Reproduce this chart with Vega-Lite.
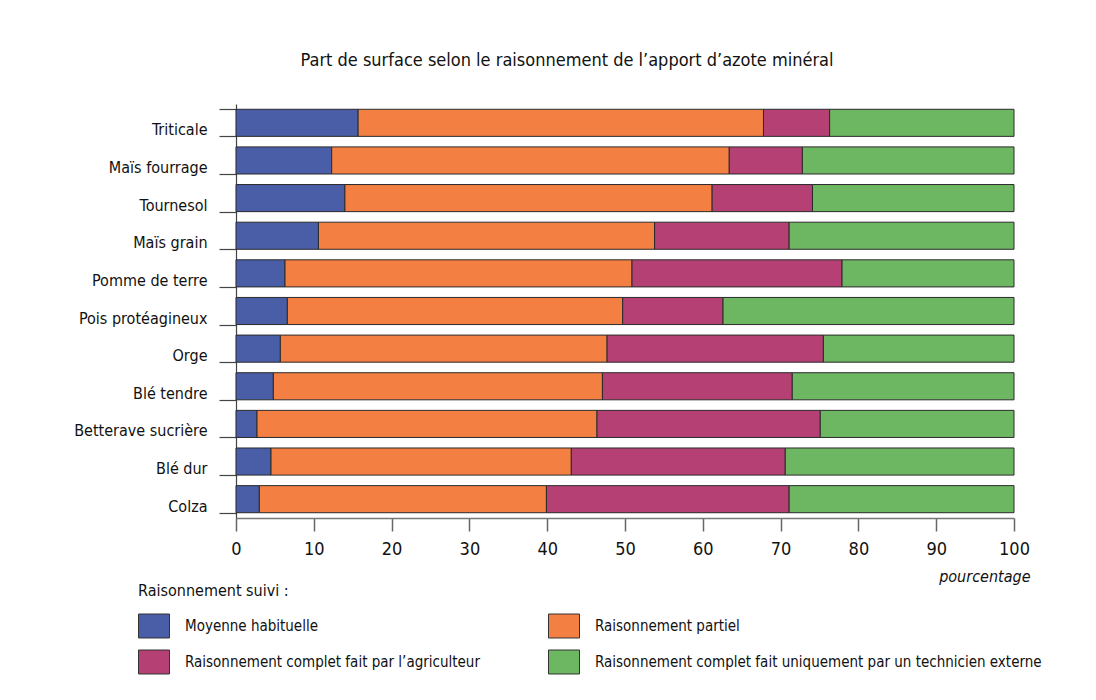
{
  "$schema": "https://vega.github.io/schema/vega-lite/v6.json",
  "width": 778,
  "height": 414,
  "autosize": {"type": "none"},
  "padding": {"left": 236, "top": 104, "right": 82, "bottom": 182},
  "background": "white",
  "config": {
    "font": "DejaVu Sans Condensed, Roboto",
    "view": {"stroke": null}
  },
  "title": {
    "text": "Part de surface selon le raisonnement de l’apport d’azote minéral",
    "anchor": "middle",
    "dx": -58,
    "offset": 26,
    "fontSize": 18,
    "fontWeight": "normal",
    "font": "DejaVu Sans Condensed, Roboto",
    "color": "#111"
  },
  "data": {
    "values": [
      {"culture": "Triticale", "raisonnement": "Moyenne habituelle", "rang": 1, "pct": 15.7},
      {"culture": "Triticale", "raisonnement": "Raisonnement partiel", "rang": 2, "pct": 52.1},
      {"culture": "Triticale", "raisonnement": "Raisonnement complet fait par l’agriculteur", "rang": 3, "pct": 8.5},
      {"culture": "Triticale", "raisonnement": "Raisonnement complet fait uniquement par un technicien externe", "rang": 4, "pct": 23.7},
      {"culture": "Maïs fourrage", "raisonnement": "Moyenne habituelle", "rang": 1, "pct": 12.3},
      {"culture": "Maïs fourrage", "raisonnement": "Raisonnement partiel", "rang": 2, "pct": 51.1},
      {"culture": "Maïs fourrage", "raisonnement": "Raisonnement complet fait par l’agriculteur", "rang": 3, "pct": 9.4},
      {"culture": "Maïs fourrage", "raisonnement": "Raisonnement complet fait uniquement par un technicien externe", "rang": 4, "pct": 27.2},
      {"culture": "Tournesol", "raisonnement": "Moyenne habituelle", "rang": 1, "pct": 14.0},
      {"culture": "Tournesol", "raisonnement": "Raisonnement partiel", "rang": 2, "pct": 47.2},
      {"culture": "Tournesol", "raisonnement": "Raisonnement complet fait par l’agriculteur", "rang": 3, "pct": 12.9},
      {"culture": "Tournesol", "raisonnement": "Raisonnement complet fait uniquement par un technicien externe", "rang": 4, "pct": 25.9},
      {"culture": "Maïs grain", "raisonnement": "Moyenne habituelle", "rang": 1, "pct": 10.6},
      {"culture": "Maïs grain", "raisonnement": "Raisonnement partiel", "rang": 2, "pct": 43.2},
      {"culture": "Maïs grain", "raisonnement": "Raisonnement complet fait par l’agriculteur", "rang": 3, "pct": 17.3},
      {"culture": "Maïs grain", "raisonnement": "Raisonnement complet fait uniquement par un technicien externe", "rang": 4, "pct": 28.9},
      {"culture": "Pomme de terre", "raisonnement": "Moyenne habituelle", "rang": 1, "pct": 6.3},
      {"culture": "Pomme de terre", "raisonnement": "Raisonnement partiel", "rang": 2, "pct": 44.6},
      {"culture": "Pomme de terre", "raisonnement": "Raisonnement complet fait par l’agriculteur", "rang": 3, "pct": 27.0},
      {"culture": "Pomme de terre", "raisonnement": "Raisonnement complet fait uniquement par un technicien externe", "rang": 4, "pct": 22.1},
      {"culture": "Pois protéagineux", "raisonnement": "Moyenne habituelle", "rang": 1, "pct": 6.6},
      {"culture": "Pois protéagineux", "raisonnement": "Raisonnement partiel", "rang": 2, "pct": 43.1},
      {"culture": "Pois protéagineux", "raisonnement": "Raisonnement complet fait par l’agriculteur", "rang": 3, "pct": 12.9},
      {"culture": "Pois protéagineux", "raisonnement": "Raisonnement complet fait uniquement par un technicien externe", "rang": 4, "pct": 37.4},
      {"culture": "Orge", "raisonnement": "Moyenne habituelle", "rang": 1, "pct": 5.7},
      {"culture": "Orge", "raisonnement": "Raisonnement partiel", "rang": 2, "pct": 42.0},
      {"culture": "Orge", "raisonnement": "Raisonnement complet fait par l’agriculteur", "rang": 3, "pct": 27.8},
      {"culture": "Orge", "raisonnement": "Raisonnement complet fait uniquement par un technicien externe", "rang": 4, "pct": 24.5},
      {"culture": "Blé tendre", "raisonnement": "Moyenne habituelle", "rang": 1, "pct": 4.8},
      {"culture": "Blé tendre", "raisonnement": "Raisonnement partiel", "rang": 2, "pct": 42.3},
      {"culture": "Blé tendre", "raisonnement": "Raisonnement complet fait par l’agriculteur", "rang": 3, "pct": 24.4},
      {"culture": "Blé tendre", "raisonnement": "Raisonnement complet fait uniquement par un technicien externe", "rang": 4, "pct": 28.5},
      {"culture": "Betterave sucrière", "raisonnement": "Moyenne habituelle", "rang": 1, "pct": 2.7},
      {"culture": "Betterave sucrière", "raisonnement": "Raisonnement partiel", "rang": 2, "pct": 43.7},
      {"culture": "Betterave sucrière", "raisonnement": "Raisonnement complet fait par l’agriculteur", "rang": 3, "pct": 28.7},
      {"culture": "Betterave sucrière", "raisonnement": "Raisonnement complet fait uniquement par un technicien externe", "rang": 4, "pct": 24.9},
      {"culture": "Blé dur", "raisonnement": "Moyenne habituelle", "rang": 1, "pct": 4.5},
      {"culture": "Blé dur", "raisonnement": "Raisonnement partiel", "rang": 2, "pct": 38.6},
      {"culture": "Blé dur", "raisonnement": "Raisonnement complet fait par l’agriculteur", "rang": 3, "pct": 27.5},
      {"culture": "Blé dur", "raisonnement": "Raisonnement complet fait uniquement par un technicien externe", "rang": 4, "pct": 29.4},
      {"culture": "Colza", "raisonnement": "Moyenne habituelle", "rang": 1, "pct": 3.0},
      {"culture": "Colza", "raisonnement": "Raisonnement partiel", "rang": 2, "pct": 36.9},
      {"culture": "Colza", "raisonnement": "Raisonnement complet fait par l’agriculteur", "rang": 3, "pct": 31.2},
      {"culture": "Colza", "raisonnement": "Raisonnement complet fait uniquement par un technicien externe", "rang": 4, "pct": 28.9}
    ]
  },
  "mark": {"type": "bar", "stroke": "#2a2a2a", "strokeWidth": 1},
  "encoding": {
    "y": {
      "field": "culture",
      "type": "nominal",
      "sort": ["Triticale", "Maïs fourrage", "Tournesol", "Maïs grain", "Pomme de terre", "Pois protéagineux", "Orge", "Blé tendre", "Betterave sucrière", "Blé dur", "Colza"],
      "scale": {"paddingInner": 0.28, "paddingOuter": 0.14},
      "axis": {
        "title": null,
        "tickBand": "extent",
        "tickSize": 17,
        "tickColor": "#444",
        "tickWidth": 1.2,
        "domainColor": "#444",
        "domainWidth": 1.2,
        "labelPadding": 12,
        "labelFontSize": 16,
        "labelColor": "#111",
        "labelOffset": 7,
        "labelLimit": 300
      }
    },
    "x": {
      "field": "pct",
      "type": "quantitative",
      "stack": "zero",
      "scale": {"domain": [0, 100], "nice": false},
      "axis": {
        "values": [0, 10, 20, 30, 40, 50, 60, 70, 80, 90, 100],
        "grid": false,
        "title": "pourcentage",
        "titleFontStyle": "italic",
        "titleFontWeight": "normal",
        "titleFontSize": 16,
        "titleColor": "#111",
        "titleAnchor": "end",
        "titleAlign": "right",
        "titleX": 794,
        "titleY": 58,
        "titleBaseline": "middle",
        "tickSize": 13,
        "tickColor": "#666",
        "tickWidth": 1.5,
        "domainColor": "#777",
        "domainWidth": 1.5,
        "labelPadding": 9,
        "labelFontSize": 18,
        "labelColor": "#111",
        "labelFlush": false
      }
    },
    "color": {
      "field": "raisonnement",
      "type": "nominal",
      "scale": {
        "domain": ["Moyenne habituelle", "Raisonnement partiel", "Raisonnement complet fait par l’agriculteur", "Raisonnement complet fait uniquement par un technicien externe"],
        "range": ["#4a5ea8", "#f47f43", "#b54073", "#6eb762"]
      },
      "legend": {
        "orient": "none",
        "legendX": -98,
        "legendY": 479,
        "direction": "horizontal",
        "columns": 2,
        "title": "Raisonnement suivi :",
        "titleFontSize": 16,
        "titleFontWeight": "normal",
        "titleColor": "#111",
        "titlePadding": 11,
        "symbolType": "M-1,-0.774L1,-0.774L1,0.774L-1,0.774Z",
        "symbolSize": 961,
        "symbolOpacity": 1,
        "symbolStrokeColor": "#333",
        "symbolStrokeWidth": 1,
        "labelFontSize": 15,
        "labelColor": "#111",
        "labelOffset": 15,
        "labelLimit": 600,
        "rowPadding": 6,
        "columnPadding": 66
      }
    },
    "order": {"field": "rang", "type": "quantitative"}
  }
}
